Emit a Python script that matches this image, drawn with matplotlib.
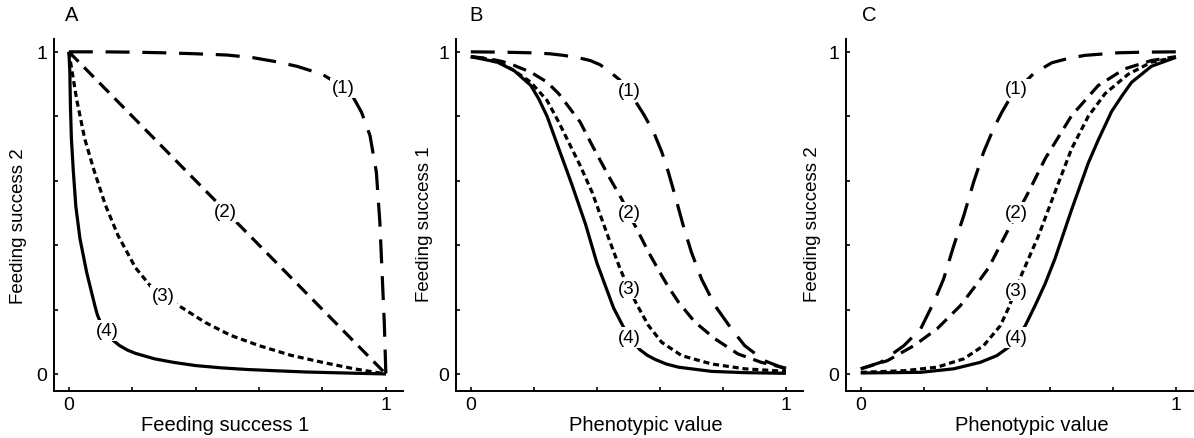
import matplotlib
matplotlib.use("Agg")
import matplotlib.pyplot as plt

plt.rcParams['font.family'] = ['Liberation Sans', 'DejaVu Sans']

# ---- Panel A: feeding success 2 against feeding success 1 ----
a1_x = [0.0, 0.1, 0.2, 0.3, 0.4, 0.5, 0.58, 0.65, 0.72, 0.8, 0.85, 0.897, 0.923, 0.95, 0.97, 0.981, 0.988, 0.995, 1.0]
a1_y = [1.0, 1.0, 0.999, 0.997, 0.994, 0.99, 0.982, 0.970, 0.955, 0.93, 0.90, 0.859, 0.813, 0.740, 0.627, 0.472, 0.316, 0.161, 0.0]

a2_x = [0.0, 1.0]
a2_y = [1.0, 0.0]

a3_x = [0.0, 0.01, 0.025, 0.05, 0.08, 0.115, 0.155, 0.21, 0.26, 0.30, 0.35, 0.43, 0.51, 0.60, 0.70, 0.80, 0.90, 1.0]
a3_y = [1.0, 0.94, 0.85, 0.73, 0.63, 0.525, 0.43, 0.33, 0.27, 0.24, 0.21, 0.16, 0.12, 0.088, 0.058, 0.036, 0.016, 0.0]

a4_x = [0.0, 0.003, 0.005, 0.008, 0.014, 0.022, 0.035, 0.056, 0.082, 0.09, 0.10, 0.11, 0.12, 0.14, 0.16, 0.185,
        0.21, 0.27, 0.33, 0.40, 0.48, 0.56, 0.65, 0.75, 0.87, 1.0]
a4_y = [1.0, 0.94, 0.83, 0.73, 0.63, 0.52, 0.42, 0.316, 0.212, 0.183, 0.16, 0.14, 0.125, 0.104, 0.088, 0.074,
        0.064, 0.047, 0.036, 0.026, 0.019, 0.014, 0.010, 0.006, 0.003, 0.0]

# ---- Panel B: feeding success 1 against phenotypic value ----
b1_x = [0.0, 0.1, 0.19, 0.25, 0.295, 0.34, 0.379, 0.41, 0.432, 0.47, 0.50, 0.52, 0.548, 0.580, 0.606, 0.627, 0.648, 0.674, 0.700, 0.732, 0.775, 0.827, 0.869, 0.932, 1.0]
b1_y = [1.0, 0.999, 0.997, 0.994, 0.989, 0.982, 0.973, 0.960, 0.945, 0.915, 0.88, 0.85, 0.807, 0.751, 0.689, 0.626, 0.554, 0.461, 0.378, 0.295, 0.212, 0.140, 0.088, 0.041, 0.015]

b2_x = [0.0, 0.05, 0.10, 0.137, 0.19, 0.242, 0.279, 0.347, 0.385, 0.442, 0.479, 0.50, 0.532, 0.564, 0.606, 0.627, 0.659, 0.711, 0.775, 0.848, 0.922, 1.0]
b2_y = [0.985, 0.98, 0.97, 0.958, 0.937, 0.906, 0.870, 0.782, 0.710, 0.606, 0.543, 0.50, 0.440, 0.378, 0.305, 0.270, 0.223, 0.161, 0.109, 0.062, 0.036, 0.018]

b3_x = [0.0, 0.05, 0.10, 0.137, 0.19, 0.242, 0.279, 0.347, 0.385, 0.442, 0.474, 0.49, 0.527, 0.564, 0.606, 0.669, 0.764, 0.869, 1.0]
b3_y = [0.985, 0.978, 0.962, 0.942, 0.906, 0.849, 0.782, 0.647, 0.564, 0.409, 0.326, 0.29, 0.215, 0.150, 0.098, 0.057, 0.031, 0.016, 0.008]

b4_x = [0.0, 0.084, 0.137, 0.19, 0.215, 0.242, 0.279, 0.32, 0.364, 0.40, 0.453, 0.49, 0.51, 0.537, 0.56, 0.585, 0.62,
        0.659, 0.764, 0.87, 1.0]
b4_y = [0.985, 0.968, 0.942, 0.896, 0.855, 0.80, 0.70, 0.59, 0.465, 0.345, 0.205, 0.135, 0.105, 0.075, 0.058, 0.045, 0.031,
        0.021, 0.008, 0.004, 0.002]

# ---- Panel C: feeding success 2 against phenotypic value ----
c1_x = [0.0, 0.063, 0.137, 0.19, 0.232, 0.263, 0.295, 0.327, 0.358, 0.390, 0.421, 0.448, 0.47, 0.495, 0.52, 0.548, 0.606, 0.66, 0.711, 0.817, 0.9, 1.0]
c1_y = [0.016, 0.036, 0.088, 0.140, 0.223, 0.295, 0.398, 0.492, 0.595, 0.689, 0.761, 0.813, 0.85, 0.88, 0.905, 0.932, 0.966, 0.98, 0.989, 0.997, 0.999, 1.0]

c2_x = [0.0, 0.084, 0.169, 0.242, 0.316, 0.369, 0.406, 0.469, 0.50, 0.532, 0.585, 0.669, 0.753, 0.837, 0.922, 1.0]
c2_y = [0.016, 0.041, 0.088, 0.140, 0.212, 0.280, 0.330, 0.450, 0.505, 0.564, 0.668, 0.802, 0.895, 0.947, 0.973, 0.985]

c3_x = [0.0, 0.137, 0.242, 0.327, 0.390, 0.443, 0.469, 0.511, 0.564, 0.616, 0.669, 0.722, 0.775, 0.848, 0.922, 1.0]
c3_y = [0.005, 0.010, 0.021, 0.047, 0.088, 0.150, 0.205, 0.310, 0.429, 0.564, 0.699, 0.80, 0.87, 0.93, 0.968, 0.983]

c4_x = [0.0, 0.19, 0.295, 0.379, 0.432, 0.469, 0.495, 0.522, 0.553, 0.585, 0.616, 0.669, 0.722, 0.753, 0.796, 0.83,
        0.859, 0.922, 1.0]
c4_y = [0.003, 0.005, 0.016, 0.036, 0.057, 0.083, 0.11, 0.150, 0.212, 0.28, 0.357, 0.51, 0.655, 0.725, 0.815, 0.865,
        0.905, 0.955, 0.983]

curve_names = ['(1)', '(2)', '(3)', '(4)']
panel_letters = ['A', 'B', 'C']
x_labels = ['Feeding success 1', 'Phenotypic value', 'Phenotypic value']
y_labels = ['Feeding success 2', 'Feeding success 1', 'Feeding success 2']

# where the curve numbers sit (data coords)
a_label_pos = [(0.865, 0.888), (0.495, 0.503), (0.298, 0.243), (0.121, 0.134)]
b_label_pos = [(0.502, 0.88), (0.502, 0.502), (0.502, 0.264), (0.502, 0.114)]
c_label_pos = [(0.495, 0.885), (0.495, 0.502), (0.495, 0.259), (0.495, 0.114)]

# dash patterns: long, medium, short, solid
LW = 2.3
styles = [dict(dashes=(7.5, 4)), dict(dashes=(4.3, 2.5)), dict(dashes=(1.9, 1.2)), dict(linestyle='-')]

panels = [
    ([(a1_x, a1_y), (a2_x, a2_y), (a3_x, a3_y), (a4_x, a4_y)], a_label_pos),
    ([(b1_x, b1_y), (b2_x, b2_y), (b3_x, b3_y), (b4_x, b4_y)], b_label_pos),
    ([(c1_x, c1_y), (c2_x, c2_y), (c3_x, c3_y), (c4_x, c4_y)], c_label_pos),
]

# axes boxes in figure fraction (left, bottom, width, height)
boxes = [(0.0452, 0.107, 0.2923, 0.802),
         (0.3819, 0.107, 0.2906, 0.802),
         (0.7085, 0.107, 0.2906, 0.802)]
letter_x = [0.0315, 0.040, 0.045]
xlabel_x = [0.49, 0.548, 0.536]
ylabel_xy = [(-0.1006, 0.47), (-0.0916, 0.478), (-0.096, 0.478)]

fig = plt.figure(figsize=(11.94, 4.39), dpi=100)

for i, (curves, label_pos) in enumerate(panels):
    ax = fig.add_axes(boxes[i])
    for (x, y), st in zip(curves, styles):
        ax.plot(x, y, color='black', lw=LW, solid_capstyle='butt', solid_joinstyle='round', **st)
    for name, (tx, ty) in zip(curve_names, label_pos):
        ax.text(tx, ty, name, fontsize=13.5, ha='center', va='center', zorder=5,
                bbox=dict(boxstyle='square,pad=0.1', fc='white', ec='none'))

    ax.set_xlim(-0.047, 1.054)
    ax.set_ylim(-0.053, 1.040)
    for side in ['top', 'right']:
        ax.spines[side].set_visible(False)
    for side in ['left', 'bottom']:
        ax.spines[side].set_linewidth(1.4)

    ticks = [0, 0.2, 0.4, 0.6, 0.8, 1.0]
    tick_text = ['0', '', '', '', '', '1']
    ax.set_xticks(ticks)
    ax.set_xticklabels(tick_text)
    ax.set_yticks(ticks)
    ax.set_yticklabels(tick_text)
    ax.tick_params(direction='in', length=2.8, width=1.2, labelsize=14)
    ax.tick_params(axis='x', pad=3.5)
    ax.tick_params(axis='y', pad=5)

    ax.set_xlabel(x_labels[i], fontsize=14.5, va='center')
    ax.xaxis.set_label_coords(xlabel_x[i], -0.096)
    ax.set_ylabel(y_labels[i], fontsize=13.5, va='center')
    ax.yaxis.set_label_coords(*ylabel_xy[i])

    ax.text(letter_x[i], 1.055, panel_letters[i], transform=ax.transAxes,
            fontsize=14.5, ha='left', va='baseline')

fig.savefig('out.png', dpi=100)
